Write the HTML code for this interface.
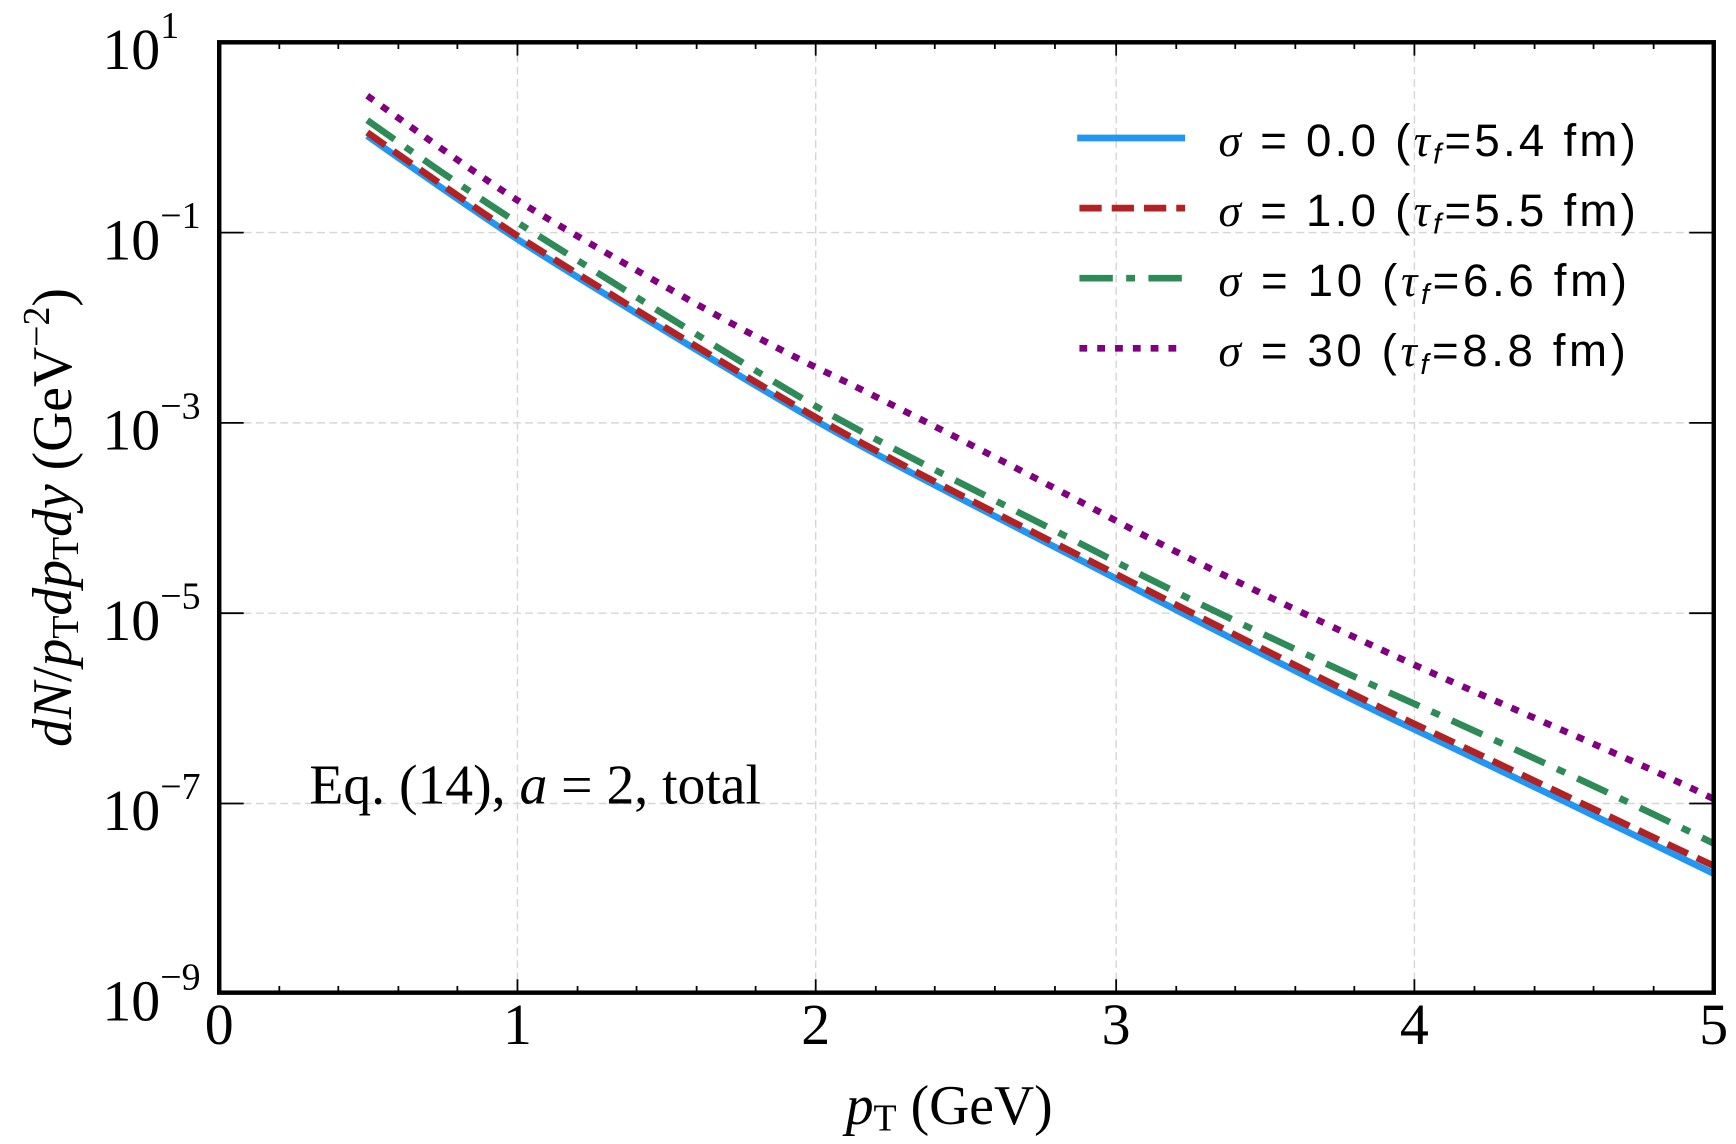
<!DOCTYPE html>
<html><head><meta charset="utf-8"><style>html,body{margin:0;padding:0;background:#fff}svg{display:block}</style></head>
<body>
<svg width="1736" height="1144" viewBox="0 0 1560 1028" preserveAspectRatio="none" xmlns="http://www.w3.org/2000/svg">
<rect width="1560" height="1028" fill="#fff"/>
<g stroke="#d6d6d6" stroke-width="1.3" stroke-dasharray="7,4" fill="none">
<line x1="465" y1="38" x2="465" y2="892"/><line x1="733" y1="38" x2="733" y2="892"/>
<line x1="1003" y1="38" x2="1003" y2="892"/><line x1="1271" y1="38" x2="1271" y2="892"/>
<line x1="197" y1="209" x2="1540" y2="209"/><line x1="197" y1="380" x2="1540" y2="380"/>
<line x1="197" y1="551" x2="1540" y2="551"/><line x1="197" y1="722" x2="1540" y2="722"/>
</g>
<g stroke="#000" stroke-width="1.6">
<path d="M197 209h22M197 380h22M197 551h22M197 722h22M1540 209h-22M1540 380h-22M1540 551h-22M1540 722h-22"/>
<path d="M465 892v-12M733 892v-12M1003 892v-12M1271 892v-12M465 38v12M733 38v12M1003 38v12M1271 38v12"/>
<path d="M251 892v-6M304 892v-6M358 892v-6M411 892v-6M519 892v-6M572 892v-6M626 892v-6M679 892v-6M787 892v-6M840 892v-6M894 892v-6M948 892v-6M1057 892v-6M1110 892v-6M1164 892v-6M1217 892v-6M1325 892v-6M1379 892v-6M1432 892v-6M1486 892v-6"/>
<path d="M251 38v6M304 38v6M358 38v6M411 38v6M519 38v6M572 38v6M626 38v6M679 38v6M787 38v6M840 38v6M894 38v6M948 38v6M1057 38v6M1110 38v6M1164 38v6M1217 38v6M1325 38v6M1379 38v6M1432 38v6M1486 38v6"/>
</g>
<g fill="none" stroke-width="6">
<path stroke="#2196f3" d="M330 122 C365 147 430 192 465 215 S660 336 733 378 S940 487 1003 520 S1200 622 1270 655 S1480 756 1540 785"/>
<path stroke="#b22222" stroke-dasharray="20,9" d="M330 119 C365 144 430 189 465 212 S660 333 733 375 S940 484 1003 516 S1200 617 1270 650 S1480 750 1540 778"/>
<path stroke="#2e8b57" stroke-dasharray="30,12,8,12" d="M330 108 C365 133 430 178 465 200 S660 323 733 365 S940 472 1003 505 S1200 601 1270 632 S1480 728 1540 758"/>
<path stroke="#800080" stroke-dasharray="7,9" d="M330 86 C365 111 430 158 465 180 S660 295 733 330 S940 434 1003 468 S1200 565 1270 597 S1480 688 1540 718"/>
</g>
<rect x="197" y="38" width="1343" height="854" fill="none" stroke="#000" stroke-width="4"/>
<g font-family="Liberation Serif, serif" fill="#000">
<g font-size="52" text-anchor="middle">
<text x="197" y="938">0</text><text x="465" y="938">1</text><text x="733" y="938">2</text><text x="1003" y="938">3</text><text x="1271" y="938">4</text><text x="1540" y="938">5</text>
</g>
<g font-size="52">
<text x="92" y="62">10</text><text x="144" y="34" font-size="34">1</text>
<text x="92" y="233">10</text><text x="144" y="205" font-size="34">−1</text>
<text x="92" y="404">10</text><text x="144" y="376" font-size="34">−3</text>
<text x="92" y="575">10</text><text x="144" y="547" font-size="34">−5</text>
<text x="92" y="746">10</text><text x="144" y="718" font-size="34">−7</text>
<text x="92" y="917">10</text><text x="144" y="889" font-size="34">−9</text>
</g>
<text x="278" y="722" font-size="50">Eq. (14), <tspan font-style="italic">a</tspan> = 2, total</text>
<text x="760" y="1010" font-size="50"><tspan font-style="italic">p</tspan><tspan font-size="34" dy="6">T</tspan><tspan dy="-6"> (GeV)</tspan></text>
<text transform="translate(64,465) rotate(-90)" text-anchor="middle" font-size="50"><tspan font-style="italic">dN</tspan>/<tspan font-style="italic">p</tspan><tspan font-size="34" dy="6">T</tspan><tspan dy="-6" font-style="italic">dp</tspan><tspan font-size="34" dy="6">T</tspan><tspan dy="-6" font-style="italic">dy</tspan> (GeV<tspan font-size="34" dy="-20">−2</tspan><tspan dy="20">)</tspan></text>
</g>
<g stroke-width="6" fill="none">
<line x1="968" y1="124" x2="1065" y2="124" stroke="#2196f3"/>
<line x1="970" y1="187" x2="1065" y2="187" stroke="#b22222" stroke-dasharray="20,9"/>
<line x1="970" y1="250" x2="1065" y2="250" stroke="#2e8b57" stroke-dasharray="30,12,8,12"/>
<line x1="970" y1="313" x2="1065" y2="313" stroke="#800080" stroke-dasharray="7,9"/>
</g>
<g font-family="Liberation Sans, DejaVu Sans, sans-serif" font-size="41" fill="#000">
<text x="1095" y="140" textLength="375"><tspan font-family="Liberation Serif, serif" font-style="italic">σ</tspan> = 0.0 (<tspan font-family="Liberation Serif, serif" font-style="italic">τ</tspan><tspan font-size="26" dy="7" font-style="italic">f</tspan><tspan dy="-7">=5.4 fm)</tspan></text>
<text x="1095" y="203" textLength="375"><tspan font-family="Liberation Serif, serif" font-style="italic">σ</tspan> = 1.0 (<tspan font-family="Liberation Serif, serif" font-style="italic">τ</tspan><tspan font-size="26" dy="7" font-style="italic">f</tspan><tspan dy="-7">=5.5 fm)</tspan></text>
<text x="1095" y="266" textLength="367"><tspan font-family="Liberation Serif, serif" font-style="italic">σ</tspan> = 10 (<tspan font-family="Liberation Serif, serif" font-style="italic">τ</tspan><tspan font-size="26" dy="7" font-style="italic">f</tspan><tspan dy="-7">=6.6 fm)</tspan></text>
<text x="1095" y="329" textLength="366"><tspan font-family="Liberation Serif, serif" font-style="italic">σ</tspan> = 30 (<tspan font-family="Liberation Serif, serif" font-style="italic">τ</tspan><tspan font-size="26" dy="7" font-style="italic">f</tspan><tspan dy="-7">=8.8 fm)</tspan></text>
</g>
</svg>
</body></html>
